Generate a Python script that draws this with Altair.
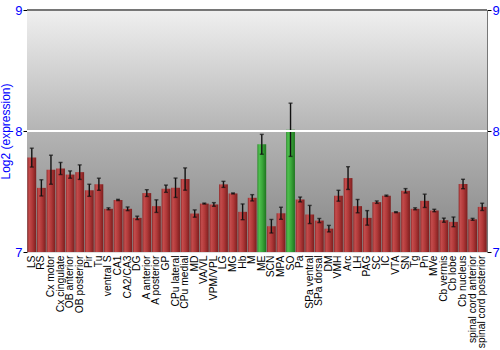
import altair as alt
import pandas as pd

regions = ["LS", "RS", "Cx motor", "Cx cingulate", "OB anterior", "OB posterior", "Pir", "Tu",
           "ventral S", "CA1", "CA2/CA3", "DG", "A anterior", "A posterior", "GP", "CPu lateral",
           "CPu medial", "MD", "VA/VL", "VPM/VPL", "LG", "MG", "Hb", "M", "ME", "SCN", "MPA", "SO",
           "Pa", "SPa ventral", "SPa dorsal", "DM", "VMH", "Arc", "LH", "PAG", "SC", "IC", "VTA",
           "SN", "Tg", "Pn", "MVe", "Cb vermis", "Cb lobe", "Cb nucleus", "spinal cord anterior",
           "spinal cord posterior"]
values = [7.78, 7.53, 7.68, 7.69, 7.64, 7.66, 7.51, 7.56,
          7.357, 7.43, 7.357, 7.282, 7.487, 7.379, 7.523, 7.531,
          7.603, 7.318, 7.40, 7.393, 7.559, 7.484, 7.332, 7.448, 7.89, 7.213, 7.32, 8.01,
          7.434, 7.31, 7.26, 7.193, 7.465, 7.611, 7.379, 7.282, 7.412, 7.465, 7.329,
          7.506, 7.357, 7.423, 7.343, 7.263, 7.249, 7.562, 7.27, 7.373]
errors = [0.078, 0.067, 0.12, 0.05, 0.03, 0.06, 0.05, 0.05,
          0.008, 0.005, 0.015, 0.014, 0.028, 0.052, 0.03, 0.08,
          0.092, 0.03, 0.004, 0.015, 0.025, 0.004, 0.065, 0.026, 0.082, 0.056, 0.05, 0.22,
          0.02, 0.075, 0.017, 0.027, 0.045, 0.094, 0.055, 0.06, 0.01, 0.005, 0.004,
          0.018, 0.008, 0.055, 0.01, 0.017, 0.04, 0.039, 0.008, 0.03]
highlighted = ["ME", "SO"]
y_ticks = [7, 8, 9]

df = pd.DataFrame({"region": regions, "value": values, "err": errors})
df["lo"] = df["value"] - df["err"]
df["hi"] = df["value"] + df["err"]
df["grp"] = ["green" if r in highlighted else "red" for r in regions]

W, H = 460, 242
FONT = "Liberation Sans"

xenc = alt.X("region:N", sort=regions, title=None,
             scale=alt.Scale(paddingInner=0.08, paddingOuter=0.04),
             axis=alt.Axis(labelAngle=-90, labelFontSize=10.3, labelColor="black", labelFont=FONT,
                           ticks=False, domain=False, labelPadding=3, labelLimit=200))
yscale = alt.Scale(domain=[7, 9], nice=False, zero=False)

red_grad = alt.Gradient(gradient="linear", x1=0, x2=1, y1=0, y2=0,
                        stops=[alt.GradientStop(offset=0, color="#8e2a2a"),
                               alt.GradientStop(offset=0.2, color="#c44c4c"),
                               alt.GradientStop(offset=0.55, color="#b03838"),
                               alt.GradientStop(offset=1, color="#7c1e1e")])
green_grad = alt.Gradient(gradient="linear", x1=0, x2=1, y1=0, y2=0,
                          stops=[alt.GradientStop(offset=0, color="#2a8a2a"),
                                 alt.GradientStop(offset=0.2, color="#4fc04f"),
                                 alt.GradientStop(offset=0.55, color="#3aa83a"),
                                 alt.GradientStop(offset=1, color="#1f741f")])
bg_grad = alt.Gradient(gradient="linear", x1=0, x2=0, y1=0, y2=1,
                       stops=[alt.GradientStop(offset=0, color="#f0f0f0"),
                              alt.GradientStop(offset=0.5, color="#b4b4b4"),
                              alt.GradientStop(offset=1, color="#858585")])

base = alt.Chart(df)

bg = base.mark_rect(fill=bg_grad).encode(
    x=alt.value(0), x2=alt.value(W), y=alt.value(0), y2=alt.value(H))

LABEL_EXPR = "'' + round(datum.value)"

yaxis_left = alt.Axis(values=y_ticks, labelExpr=LABEL_EXPR, title="Log2 (expression)",
                      titleColor="#0000ff", titleFontSize=12, titleFont=FONT,
                      titleFontWeight="normal", titlePadding=2,
                      labelColor="#0000ff", labelFontSize=13, labelFont=FONT, grid=False,
                      labelOverlap=False, labelFlush=False,
                      tickColor="black", tickSize=4, domainColor="#777777", labelPadding=1)

bars_red = base.transform_filter(alt.datum.grp == "red").mark_bar(fill=red_grad).encode(
    x=xenc, y=alt.Y("value:Q", scale=yscale, axis=yaxis_left), y2=alt.datum(7))
bars_green = base.transform_filter(alt.datum.grp == "green").mark_bar(fill=green_grad).encode(
    x=xenc, y=alt.Y("value:Q", scale=yscale), y2=alt.datum(7))

err_rule = base.mark_rule(color="#111111", strokeWidth=1.4).encode(
    x=xenc, y=alt.Y("lo:Q", scale=yscale), y2="hi:Q")
cap_lo = base.mark_tick(color="#111111", size=4, thickness=1.4).encode(
    x=xenc, y=alt.Y("lo:Q", scale=yscale))
cap_hi = base.mark_tick(color="#111111", size=4, thickness=1.4).encode(
    x=xenc, y=alt.Y("hi:Q", scale=yscale))

white_line = base.mark_rule(color="white", strokeWidth=2).encode(y=alt.datum(8, scale=yscale))
top_line = base.mark_rule(color="#777777", strokeWidth=1).encode(y=alt.datum(9))

right_axis = alt.Chart(pd.DataFrame({"v": [8]})).mark_rule(opacity=0).encode(
    y=alt.Y("v:Q", scale=yscale,
            axis=alt.Axis(orient="right", values=y_ticks, labelExpr=LABEL_EXPR, title=None,
                          labelColor="#0000ff", labelFontSize=13, labelFont=FONT, grid=False,
                          labelOverlap=False, labelFlush=False,
                          tickColor="black", tickSize=4, domainColor="#777777", labelPadding=1)))

left = alt.layer(bg, bars_red, bars_green, err_rule, cap_lo, cap_hi, white_line, top_line)
chart = alt.layer(left, right_axis).resolve_scale(y="independent").properties(
    width=W, height=H,
    autosize=alt.AutoSizeParams(type="none"),
    padding={"left": 27, "top": 10, "right": 13, "bottom": 98},
).configure_view(stroke=None).configure(background="white")

chart.save("out.html", embed_options={"renderer": "svg", "actions": False})
